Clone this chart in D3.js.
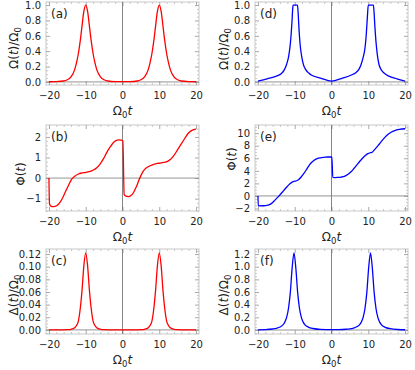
<!DOCTYPE html>
<html>
<head>
<meta charset="utf-8">
<script src="https://cdn.jsdelivr.net/npm/d3@7"></script>
<style>
  body { margin: 0; background: #fff; }
  svg { font-family: "DejaVu Sans", sans-serif; }
</style>
</head>
<body>
<svg id="chart" width="415" height="370"></svg>
<script>
// ---- data: [Omega0 t, value] ----
const xTicks = [-20, -10, 0, 10, 20];

// (a) Omega(t)/Omega0, red
const omegaRed = [
  [-20, 0.002], [-18, 0.004], [-16, 0.012], [-15, 0.028], [-14, 0.065], [-13, 0.16],
  [-12.5, 0.25], [-12, 0.37], [-11.5, 0.53], [-11, 0.73], [-10.5, 0.92], [-10, 1.0],
  [-9.5, 0.92], [-9, 0.73], [-8.5, 0.53], [-8, 0.37], [-7.5, 0.25], [-7, 0.16],
  [-6, 0.065], [-5, 0.028], [-4, 0.012], [-2, 0.004], [0, 0.003],
  [2, 0.004], [4, 0.012], [5, 0.028], [6, 0.065], [7, 0.16], [7.5, 0.25], [8, 0.37],
  [8.5, 0.53], [9, 0.73], [9.5, 0.92], [10, 1.0], [10.5, 0.92], [11, 0.73], [11.5, 0.53],
  [12, 0.37], [12.5, 0.25], [13, 0.16], [14, 0.065], [15, 0.028], [16, 0.012],
  [18, 0.004], [20, 0.002]
];

// (b) Phi(t), red
const phiRed = [
  [-20, 0], [-19.85, -1.25], [-19.5, -1.36], [-18.8, -1.39], [-17.8, -1.33], [-17, -1.18],
  [-16.3, -0.97], [-15.6, -0.7], [-14.7, -0.36], [-13.8, -0.05], [-12.9, 0.1], [-12, 0.2],
  [-11, 0.25], [-10.2, 0.27], [-9, 0.31], [-7.9, 0.39], [-7, 0.5], [-6.1, 0.68],
  [-5.2, 0.93], [-4.3, 1.24], [-3.4, 1.5], [-2.5, 1.72], [-1.8, 1.82], [-1.1, 1.86],
  [-0.4, 1.85], [0.1, 1.8], [0.45, -0.8], [0.9, -0.88], [1.6, -0.9], [2.3, -0.85],
  [3, -0.7], [3.7, -0.45], [4.4, -0.13], [5, 0.12], [5.7, 0.35], [6.5, 0.5], [7.5, 0.6],
  [8.5, 0.67], [9.5, 0.71], [10.3, 0.73], [11.2, 0.76], [12.1, 0.8], [13, 0.9],
  [13.9, 1.08], [15, 1.38], [16.2, 1.72], [17.1, 1.98], [18, 2.2], [19, 2.33], [20, 2.38]
];

// (c) Delta(t)/Omega0, red
const deltaRed = [
  [-20, 0], [-18, 0], [-16, 0.0001], [-15, 0.0003], [-14, 0.001], [-13, 0.0035],
  [-12.5, 0.007], [-12, 0.014], [-11.5, 0.033], [-11, 0.063], [-10.5, 0.102], [-10, 0.122],
  [-9.5, 0.102], [-9, 0.063], [-8.5, 0.033], [-8, 0.014], [-7.5, 0.007], [-7, 0.0035],
  [-6, 0.001], [-5, 0.0003], [-4, 0.0001], [-2, 0], [0, 0],
  [2, 0], [4, 0.0001], [5, 0.0003], [6, 0.001], [7, 0.0035], [7.5, 0.007], [8, 0.014],
  [8.5, 0.033], [9, 0.063], [9.5, 0.102], [10, 0.122], [10.5, 0.102], [11, 0.063],
  [11.5, 0.033], [12, 0.014], [12.5, 0.007], [13, 0.0035], [14, 0.001], [15, 0.0003],
  [16, 0.0001], [18, 0], [20, 0]
];

// (d) Omega(t)/Omega0, blue
const omegaBlue = [
  [-20, 0.01], [-17.5, 0.04], [-15, 0.075], [-13.6, 0.11], [-12.8, 0.16], [-12.2, 0.23],
  [-11.7, 0.32], [-11.3, 0.45], [-11, 0.6], [-10.75, 0.78], [-10.55, 0.95], [-10.45, 1.0],
  [-9.25, 1.0], [-9.1, 0.92], [-8.8, 0.66], [-8.5, 0.47], [-8.1, 0.33], [-7.6, 0.22],
  [-7, 0.16], [-6.2, 0.115], [-5.5, 0.09], [-3, 0.05], [0, 0.01],
  [3, 0.05], [5.4, 0.09], [6.6, 0.12], [7.4, 0.16], [8, 0.22], [8.5, 0.3], [8.9, 0.38],
  [9.2, 0.48], [9.5, 0.65], [9.8, 0.88], [10, 1.0], [11.4, 1.0], [11.55, 0.92],
  [11.8, 0.72], [12.1, 0.52], [12.5, 0.34], [12.9, 0.23], [13.5, 0.16], [14.2, 0.12],
  [15.6, 0.075], [17.8, 0.04], [20, 0.01]
];

// (e) Phi(t), blue
const phiBlue = [
  [-20, 0], [-19.9, -1.58], [-18.5, -1.56], [-17.5, -1.5], [-16.7, -1.35], [-16, -1.05],
  [-15.3, -0.63], [-14.5, -0.15], [-13.8, 0.3], [-13, 0.85], [-12.1, 1.47], [-11.3, 1.95],
  [-10.6, 2.25], [-10, 2.35], [-9.5, 2.42], [-8.9, 2.63], [-8.2, 3.05], [-7.5, 3.58],
  [-6.6, 4.4], [-5.7, 5.16], [-4.8, 5.65], [-3.9, 5.95], [-3, 6.08], [-2, 6.15],
  [-1, 6.2], [-0.2, 6.2], [0.1, 6.2], [0.35, 2.95], [1, 2.93], [1.7, 2.95], [2.6, 3.0],
  [3.5, 3.1], [4.4, 3.4], [5.3, 3.84], [6.2, 4.45], [7.2, 5.16], [8.2, 5.85], [9.2, 6.45],
  [9.9, 6.74], [10.5, 6.88], [11, 6.95], [11.6, 7.3], [12.7, 8.05], [13.8, 8.85],
  [15, 9.63], [16.2, 10.15], [17.2, 10.42], [18.5, 10.6], [20, 10.7]
];

// (f) Delta(t)/Omega0, blue
const deltaBlue = [
  [-20, 0.003], [-18, 0.006], [-16, 0.016], [-15, 0.027], [-14, 0.047], [-13, 0.095],
  [-12.7, 0.125], [-12.2, 0.2], [-11.7, 0.34], [-11.2, 0.59], [-10.7, 0.98], [-10.2, 1.22],
  [-9.7, 0.98], [-9.2, 0.59], [-8.7, 0.34], [-8.2, 0.2], [-7.7, 0.125], [-7.2, 0.08],
  [-6.2, 0.043], [-5, 0.024], [-3, 0.009], [0, 0.005],
  [2, 0.006], [4, 0.012], [5, 0.018], [6, 0.031], [7, 0.055], [7.6, 0.08], [8.1, 0.125],
  [8.6, 0.2], [9.1, 0.34], [9.6, 0.59], [10.1, 0.98], [10.6, 1.22], [11.1, 0.98],
  [11.6, 0.59], [12.1, 0.34], [12.6, 0.2], [13.1, 0.125], [13.6, 0.08], [14.6, 0.043],
  [16, 0.021], [18, 0.008], [20, 0.004]
];

const omegaTicks = [0, 0.2, 0.4, 0.6, 0.8, 1.0];
const phiRedTicks = [-1, 0, 1, 2];
const deltaRedTicks = [0, 0.02, 0.04, 0.06, 0.08, 0.10, 0.12];
const phiBlueTicks = [-2, 0, 2, 4, 6, 8, 10];
const deltaBlueTicks = [0, 0.2, 0.4, 0.6, 0.8, 1.0, 1.2];

// ---- layout ----
const cols = [[46, 199], [255, 408]];
const rows = [[2, 85], [125, 211], [249, 334]];
const minus = s => s.replace("-", "\u2212");

const panels = [
  { tag: "(a)", data: omegaRed, color: "#ff0000", col: 0, row: 0, yDom: [-0.04, 1.04],
    ticks: omegaTicks, minor: 0.05, fmt: ".1f", label: ["\u03a9", true], lab: [14, 48] },
  { tag: "(b)", data: phiRed, color: "#ff0000", col: 0, row: 1, yDom: [-1.6, 2.58],
    ticks: phiRedTicks, minor: 0.2, fmt: "d", label: ["\u03a6", false], lab: [21, 174] },
  { tag: "(c)", data: deltaRed, color: "#ff0000", col: 0, row: 2, yDom: [-0.0065, 0.128],
    ticks: deltaRedTicks, minor: 0.005, fmt: ".2f", label: ["\u0394", true], lab: [14, 295] },
  { tag: "(d)", data: omegaBlue, color: "#0000ff", col: 1, row: 0, yDom: [-0.04, 1.04],
    ticks: omegaTicks, minor: 0.05, fmt: ".1f", label: ["\u03a9", true], lab: [224, 49] },
  { tag: "(e)", data: phiBlue, color: "#0000ff", col: 1, row: 1, yDom: [-2.4, 11.3],
    ticks: phiBlueTicks, minor: 0.5, fmt: "d", label: ["\u03a6", false], lab: [232, 159] },
  { tag: "(f)", data: deltaBlue, color: "#0000ff", col: 1, row: 2, yDom: [-0.063, 1.28],
    ticks: deltaBlueTicks, minor: 0.05, fmt: ".1f", label: ["\u0394", true], lab: [224, 295] }
];

const svg = d3.select("#chart");

function minorTicks(dom, step, major) {
  const lo = Math.ceil(dom[0] / step - 1e-9), hi = Math.floor(dom[1] / step + 1e-9);
  return d3.range(lo, hi + 1).map(i => i * step)
    .filter(v => !major.some(m => Math.abs(m - v) < step / 10));
}

function styleAxis(g, color) {
  g.select(".domain").remove();
  g.selectAll(".tick line").attr("stroke", color);
  g.selectAll("text").attr("fill", "#222").attr("font-size", 10).attr("font-family", "DejaVu Sans");
}

panels.forEach(p => {
  const [x0, x1] = cols[p.col];
  const [y0, y1] = rows[p.row];
  const x = d3.scaleLinear().domain([-20.8, 20.8]).range([x0, x1]);
  const y = d3.scaleLinear().domain(p.yDom).range([y1, y0]);
  const g = svg.append("g");
  const fmt = d3.format(p.fmt);
  const xMinor = minorTicks([-20, 20], 2, xTicks);
  const yMinor = minorTicks(p.yDom, p.minor, p.ticks);

  // frame
  g.append("rect").attr("x", x0).attr("y", y0).attr("width", x1 - x0).attr("height", y1 - y0)
    .attr("fill", "none").attr("stroke", "#c8c8c8").attr("stroke-width", 1);

  // major and minor frame ticks, pointing inward
  const mk = (axis, tr, vals, size, labels, pad) => {
    const a = axis.tickValues(vals).tickSize(-size).tickPadding(pad || 3);
    if (!labels) a.tickFormat("");
    g.append("g").attr("transform", tr).call(a).call(s => styleAxis(s, size > 3 ? "#a8a8a8" : "#c8c8c8"));
  };
  mk(d3.axisBottom(x).tickFormat(d => minus(String(d))), `translate(0,${y1})`, xTicks, 4, true, 6.5);
  mk(d3.axisBottom(x), `translate(0,${y1})`, xMinor, 2, false);
  mk(d3.axisTop(x), `translate(0,${y0})`, xTicks, 4, false);
  mk(d3.axisTop(x), `translate(0,${y0})`, xMinor, 2, false);
  mk(d3.axisLeft(y).tickFormat(d => minus(fmt(d))), `translate(${x0},0)`, p.ticks, 4, true, 5);
  mk(d3.axisLeft(y), `translate(${x0},0)`, yMinor, 2, false);
  mk(d3.axisRight(y), `translate(${x1},0)`, p.ticks, 4, false);
  mk(d3.axisRight(y), `translate(${x1},0)`, yMinor, 2, false);

  // zero axes
  g.append("line").attr("x1", x(0)).attr("x2", x(0)).attr("y1", y0).attr("y2", y1)
    .attr("stroke", "#777").attr("stroke-width", 0.9);
  g.append("line").attr("x1", x0).attr("x2", x1).attr("y1", y(0)).attr("y2", y(0))
    .attr("stroke", "#888").attr("stroke-width", 0.9);

  // curve
  const line = d3.line().x(d => x(d[0])).y(d => y(d[1])).curve(d3.curveMonotoneX);
  g.append("path").datum(p.data).attr("d", line)
    .attr("fill", "none").attr("stroke", p.color).attr("stroke-width", 1.3);

  // panel tag
  g.append("text").attr("x", x0 + 5).attr("y", y0 + 16).attr("font-size", 12)
    .attr("fill", "#222").text(p.tag);

  // x title: Omega_0 t
  const xt = g.append("text").attr("x", x(0)).attr("y", y1 + 30).attr("text-anchor", "middle")
    .attr("font-size", 12).attr("fill", "#222");
  xt.append("tspan").text("\u03a9");
  xt.append("tspan").attr("font-size", 8.5).attr("dy", 2.5).text("0");
  xt.append("tspan").attr("dy", -2.5).attr("font-style", "italic").text("t");

  // y title
  const yt = g.append("text").attr("transform", `translate(${p.lab[0] + 4},${p.lab[1]}) rotate(-90)`)
    .attr("text-anchor", "middle").attr("font-size", 12).attr("fill", "#222");
  yt.append("tspan").text(p.label[0] + "(");
  yt.append("tspan").attr("font-style", "italic").text("t");
  yt.append("tspan").text(p.label[1] ? ")/\u03a9" : ")");
  if (p.label[1]) yt.append("tspan").attr("font-size", 8.5).attr("dy", 2.5).text("0");
});
</script>
</body>
</html>
